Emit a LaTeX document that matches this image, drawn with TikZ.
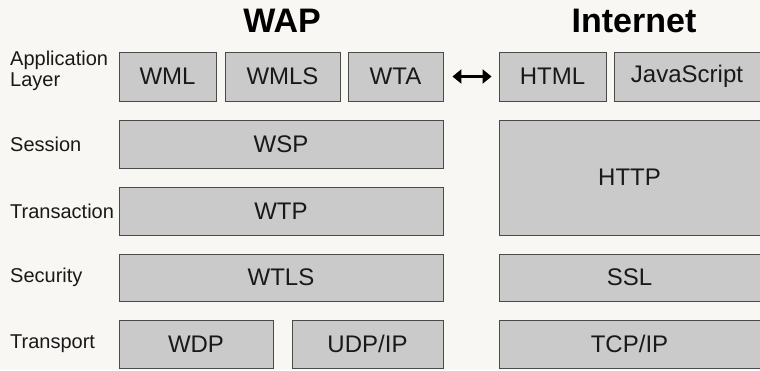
\documentclass[tikz,border=0pt]{standalone}
\usepackage{fontspec}
\setmainfont{Liberation Sans}
\usetikzlibrary{fit,arrows.meta}
\definecolor{paper}{HTML}{F8F7F3}
\definecolor{boxfill}{HTML}{CACACA}
\definecolor{boxline}{HTML}{4A4A4A}
\tikzset{
  layerbox/.style={draw=boxline, fill=boxfill, line width=0.9pt, inner sep=0pt,
    label={[font=\fontsize{24}{28}\selectfont, text=black!90]center:#1}},
  layerlabel/.style={anchor=west, align=left, inner sep=0pt,
    font=\fontsize{20}{23}\selectfont, text=black!90},
  stacktitle/.style={font=\fontsize{34}{38}\selectfont\bfseries, inner sep=0pt},
}
\begin{document}
\begin{tikzpicture}[x=1pt, y=-1pt]
  \fill[paper] (0,0) rectangle (760,370);
  \useasboundingbox (0,0) rectangle (760,370);

  % column titles
  \node[stacktitle] (wap) at (282,21) {WAP};
  \node[stacktitle] (inet) at (634,21) {Internet};

  % layer names
  \node[layerlabel] (lapp) at (10,71) {Application\\[-2pt]Layer};
  \node[layerlabel] (lses) at (10,144) {Session};
  \node[layerlabel] (ltra) at (10,211) {Transaction};
  \node[layerlabel] (lsec) at (10,277) {Security};
  \node[layerlabel] (ltrn) at (10,344) {Transport};

  % WAP stack
  \node[layerbox=WML, fit={(119,52) (216,101)}] (wml) {};
  \node[layerbox=WMLS, fit={(225,52) (340,101)}] (wmls) {};
  \node[layerbox=WTA, fit={(348,52) (443,101)}] (wta) {};
  \node[layerbox=WSP, fit={(119,120) (443,168)}] (wsp) {};
  \node[layerbox=WTP, fit={(119,187) (443,235)}] (wtp) {};
  \node[layerbox=WTLS, fit={(119,254) (443,301)}] (wtls) {};
  \node[layerbox=WDP, fit={(119,320) (273,368)}] (wdp) {};
  \node[layerbox=UDP/IP, fit={(292,320) (443,368)}] (udp) {};

  % Internet stack
  \node[layerbox=HTML, fit={(499,52) (606,101)}] (html) {};
  \node[layerbox=JavaScript, fit={(614,52) (760,101)}] (js) {};
  \node[layerbox=HTTP, fit={(499,120) (760,235)}] (http) {};
  \node[layerbox=SSL, fit={(499,254) (760,301)}] (ssl) {};
  \node[layerbox=TCP/IP, fit={(499,320) (760,368)}] (tcp) {};

  % correspondence of the application layers
  \draw[line width=3.6pt, {Triangle[length=9pt,width=14pt]}-{Triangle[length=9pt,width=14pt]}]
    ([xshift=9pt]wta.east) -- ([xshift=-7pt]html.west);
\end{tikzpicture}
\end{document}
